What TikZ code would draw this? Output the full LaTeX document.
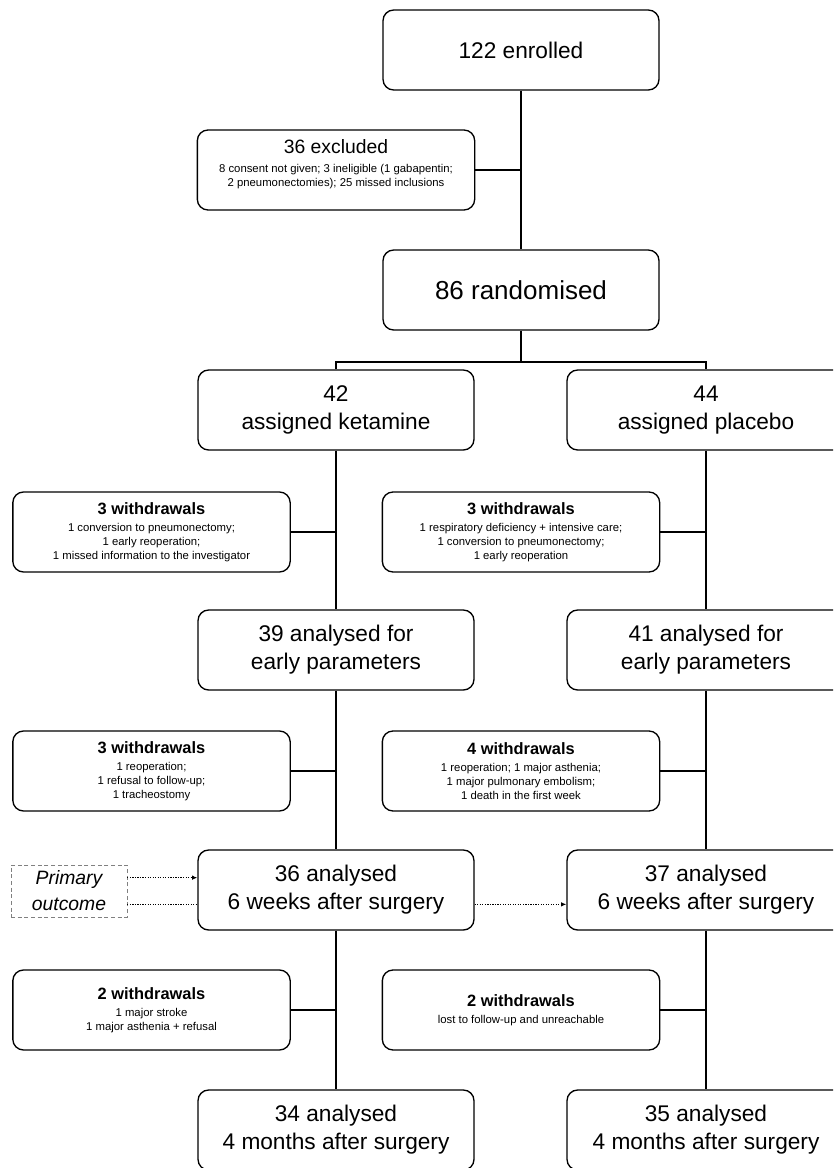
\documentclass[tikz,border=0pt]{standalone}
\usepackage{fontspec}
\setmainfont{Liberation Sans}
\usetikzlibrary{arrows.meta}
\newcommand{\boxfont}{\fontsize{17}{21}\selectfont}
\newcommand{\head}[1]{{\fontsize{12.3}{14}\selectfont\bfseries #1}\\[2pt]}

\begin{document}
\begin{tikzpicture}[x=0.75pt,y=-0.75pt,
    box/.style={draw,line width=1pt,rounded corners=8pt,minimum width=207pt,minimum height=60pt,align=center,font=\boxfont},
    wbox/.style={box,minimum width=208pt,font=\fontsize{8.5}{10.5}\selectfont},
    link/.style={line width=1pt},
    dots/.style={densely dotted,line width=0.9pt}]
  \useasboundingbox (0,0) rectangle (833,1168);
  \clip (0,0) rectangle (833,1168);

  \node [box] (enrol) at (521,50) {122 enrolled};
  \node [wbox] (excl) at (336,170) {{\fontsize{14.5}{17}\selectfont 36 excluded}\\[4pt]
    8 consent not given; 3 ineligible (1 gabapentin;\\ 2 pneumonectomies); 25 missed inclusions\\[0pt]~};
  \node [box,font=\fontsize{19.5}{23}\selectfont] (rand) at (521,290) {86 randomised};
  \coordinate (fork) at (521,362);

  \node [box] (ket) at (336,410) {42\\assigned ketamine};
  \node [box,minimum width=208.5pt] (plac) at (706,410) {44\\assigned placebo};

  \node [wbox] (wk1) at (151.5,532) {\head{3 withdrawals}1 conversion to pneumonectomy;\\1 early reoperation;\\1 missed information to the investigator};
  \node [wbox] (wp1) at (521,532) {\head{3 withdrawals}1 respiratory deficiency + intensive care;\\1 conversion to pneumonectomy;\\1 early reoperation};

  \node [box] (ek) at (336,650) {39 analysed for\\early parameters};
  \node [box,minimum width=208.5pt] (ep) at (706,650) {41 analysed for\\early parameters};

  \node [wbox] (wk2) at (151.5,771) {\head{3 withdrawals}1 reoperation;\\1 refusal to follow-up;\\1 tracheostomy};
  \node [wbox] (wp2) at (521,771) {\head{4 withdrawals}1 reoperation; 1 major asthenia;\\1 major pulmonary embolism;\\1 death in the first week};

  \node [box] (sk) at (336,890) {36 analysed\\6 weeks after surgery};
  \node [box,minimum width=208.5pt] (sp) at (706,890) {37 analysed\\6 weeks after surgery};
  \node [draw=gray,densely dashed,minimum width=87pt,minimum height=39pt,align=center,font=\fontsize{14.5}{19.5}\selectfont\itshape] (prim) at (69,891) {Primary\\outcome};

  \node [wbox] (wk3) at (151.5,1010) {\head{2 withdrawals}1 major stroke\\1 major asthenia + refusal};
  \node [wbox] (wp3) at (521,1010) {\head{2 withdrawals}lost to follow-up and unreachable};

  \node [box] (mk) at (336,1130) {34 analysed\\4 months after surgery};
  \node [box,minimum width=208.5pt] (mp) at (706,1130) {35 analysed\\4 months after surgery};

  \draw[link] (enrol) -- (rand);
  \draw[link] (excl.east) -- (excl.east -| enrol.south);
  \draw[link] (rand.south) -- (fork);
  \draw[link] (ket.north) |- (fork) -| (plac.north);
  \draw[link] (ket) -- (ek);
  \draw[link] (ek) -- (sk);
  \draw[link] (sk) -- (mk);
  \draw[link] (plac) -- (ep);
  \draw[link] (ep) -- (sp);
  \draw[link] (sp) -- (mp);
  \draw[link] (wk1.east) -- (wk1.east -| ket.south);
  \draw[link] (wk2.east) -- (wk2.east -| ek.south);
  \draw[link] (wk3.east) -- (wk3.east -| sk.south);
  \draw[link] (wp1.east) -- (wp1.east -| plac.south);
  \draw[link] (wp2.east) -- (wp2.east -| ep.south);
  \draw[link] (wp3.east) -- (wp3.east -| sp.south);

  \draw[dots,-{Latex[length=4pt,width=3.5pt]}] ([yshift=10pt]prim.east) -- ([yshift=10pt]prim.east -| sk.west);
  \draw[dots] ([yshift=-10pt]prim.east) -- ([yshift=-10pt]prim.east -| sk.west);
  \draw[dots,-{Latex[length=4pt,width=3.5pt]}] ([yshift=-10pt]prim.east -| sk.east) -- ([yshift=-10pt]prim.east -| sp.west);
\end{tikzpicture}
\end{document}
